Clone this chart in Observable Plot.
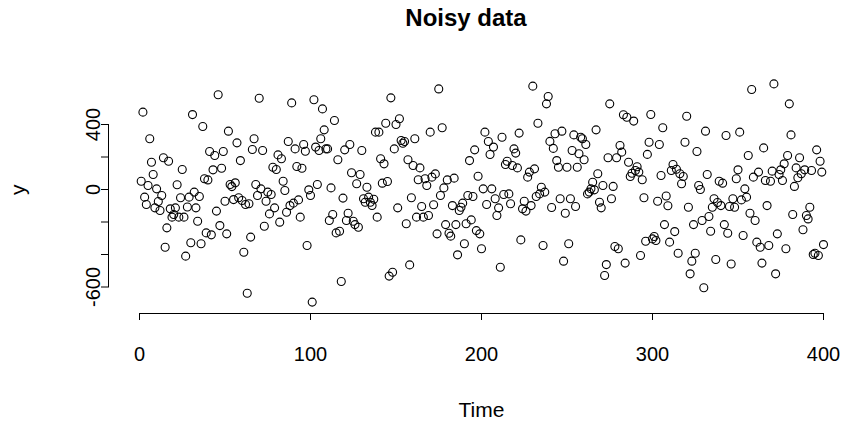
<!DOCTYPE html>
<html><head><meta charset="utf-8">
<script src="https://cdn.jsdelivr.net/npm/d3@7"></script>
<script src="https://cdn.jsdelivr.net/npm/@observablehq/plot@0.6"></script>
<style>
body{margin:0;background:#fff;font-family:"Liberation Sans",Arial,sans-serif;}
#title{height:40px;width:848px;position:relative;}
#title span{position:absolute;left:466px;top:6px;transform:translateX(-50%);font-weight:bold;font-size:24px;line-height:1;white-space:nowrap;}
</style></head><body>
<div id="title"><span>Noisy data</span></div>
<div id="chart"></div>
<script>
const yValues = [
51,476,-47,-92,25,312,168,92,-113,4,-74,-129,-37,195,-355,-236,174,-119,-170,-154,
-113,29,-170,-51,123,-170,-410,-108,-47,-328,461,-16,-113,-195,-43,-334,388,66,-267,59,
234,-279,121,209,-133,583,-222,131,234,-72,-273,359,31,18,-62,41,287,-51,178,-68,
-386,-92,-638,-88,-293,246,312,31,-37,562,4,240,-226,-72,-16,-150,-31,137,-113,123,
213,-201,189,51,-6,-140,295,-99,533,-84,250,142,-64,-170,131,277,235,-345,-2,-37,
-693,552,261,31,240,312,496,367,250,250,-191,10,-154,425,-267,183,-257,-566,-53,244,
-191,-146,277,103,-195,-216,35,-232,92,240,-57,-78,14,-47,-78,-98,-60,353,-170,353,
189,39,158,408,49,-533,564,-509,250,400,-113,435,302,285,295,-211,183,-464,-51,148,
312,-170,60,133,-105,-170,66,25,-160,353,76,-94,96,-273,619,-37,380,10,-216,59,
-269,-287,-99,70,-216,-402,-129,-109,-84,-334,-211,-37,178,-187,-43,244,-253,82,-273,-365,
4,353,-92,295,215,4,261,-57,-160,-113,-478,322,-31,154,174,-27,-88,148,250,224,
133,347,-310,-119,-72,-133,76,107,-99,636,127,-43,408,-27,14,-345,-16,527,572,296,
-111,253,343,178,137,-57,359,-441,-146,137,-334,-57,240,336,-105,137,220,322,312,183,
277,-27,-16,4,45,-2,367,97,-78,-113,25,-529,-462,195,527,-57,19,-351,195,-365,
271,230,460,-453,445,168,80,100,421,117,140,107,-406,60,-51,-318,216,291,462,-304,
-289,-314,-72,277,86,380,-216,-40,-100,-324,117,154,-259,125,-392,97,35,80,291,451,
-109,-519,-441,-216,-392,234,25,0,-191,-605,359,92,-166,-257,-109,-57,-431,-80,51,-99,
39,-216,332,-269,-105,-458,-57,-109,66,121,353,-64,-283,4,-47,209,-146,615,76,-191,
-324,107,-355,-453,256,55,-99,-345,51,113,650,-519,-273,92,121,55,158,-365,209,527,
336,-154,19,133,72,195,97,-248,121,-160,-181,-109,117,-400,-392,244,-406,174,107,-339
];
const xTicks = [0, 100, 200, 300, 400];
const yTicks = [-600, -400, -200, 0, 200, 400];
const yTickLabels = [-600, 0, 400];
const xLabel = "Time";
const yLabel = "y";

const data = yValues.map((v, i) => ({time: i + 1, y: v}));
const fmt = d => (d < 0 ? "-" + Math.abs(d) : String(d));

const plot = Plot.plot({
  width: 848, height: 388,
  marginTop: 84, marginBottom: 141.5, marginLeft: 139, marginRight: 25,
  style: {fontFamily: "Liberation Sans, Arial, sans-serif", fontSize: "20px", background: "white", overflow: "visible"},
  x: {domain: [0, 400]},
  y: {domain: [-600, 400]},
  marks: [
    Plot.dot(data, {x: "time", y: "y", r: 4, stroke: "black", strokeWidth: 1.1, fill: "none"}),
    Plot.frame({anchor: "bottom", dy: 26.5, stroke: "black"}),
    Plot.axisX({ticks: xTicks, tickSize: 7, tickPadding: 26, dy: 26.5, label: null, tickFormat: fmt, fontSize: 20, stroke: "black"}),
    Plot.frame({anchor: "left", dx: -31, stroke: "black"}),
    Plot.axisY({ticks: yTicks, tickSize: 7, dx: -31, tickFormat: () => "", label: null, stroke: "black"}),
    Plot.text(yTickLabels, {y: d => d, text: fmt, frameAnchor: "left", textAnchor: "middle", dx: -40, rotate: -90, lineAnchor: "bottom", fontSize: 20}),
    Plot.text([xLabel], {text: d => d, frameAnchor: "bottom", textAnchor: "middle", dy: 129.5, fontSize: 21}),
    Plot.text([yLabel], {text: d => d, frameAnchor: "left", textAnchor: "middle", dx: -121, dy: -16, rotate: -90, fontSize: 21})
  ]
});
document.getElementById("chart").appendChild(plot);
</script>
</body></html>
